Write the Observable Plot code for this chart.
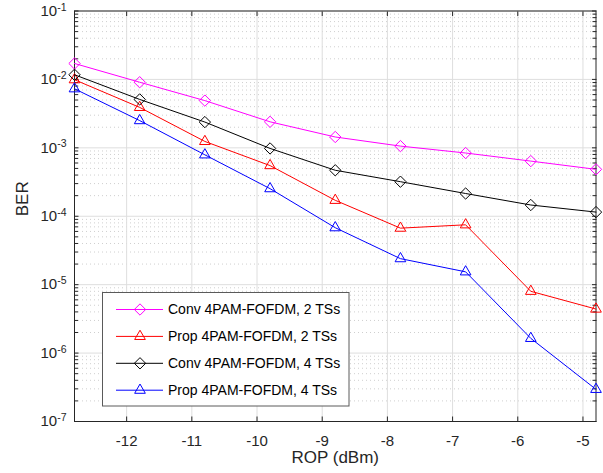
<!DOCTYPE html>
<html><head><meta charset="utf-8">
<script src="https://cdn.jsdelivr.net/npm/d3@7"></script>
<script src="https://cdn.jsdelivr.net/npm/@observablehq/plot@0.6"></script>
<style>
body{margin:0;background:#fff;}
#wrap{position:relative;width:603px;height:473px;}
</style></head><body><div id="wrap"></div>
<script>
// ---- data ----
const rop = [-12.8, -11.8, -10.8, -9.8, -8.8, -7.8, -6.8, -5.8, -4.8];
const conv2 = [1.71e-2, 9.1e-3, 4.9e-3, 2.4e-3, 1.44e-3, 1.06e-3, 8.4e-4, 6.4e-4, 4.85e-4];
const prop2 = [9.9e-3, 3.9e-3, 1.24e-3, 5.5e-4, 1.71e-4, 6.7e-5, 7.5e-5, 8.0e-6, 4.4e-6];
const conv4 = [1.17e-2, 5.1e-3, 2.38e-3, 9.8e-4, 4.7e-4, 3.2e-4, 2.15e-4, 1.46e-4, 1.15e-4];
const prop4 = [7.3e-3, 2.5e-3, 7.9e-4, 2.53e-4, 6.8e-5, 2.4e-5, 1.54e-5, 1.64e-6, 2.95e-7];
const seriesNames = ["Conv 4PAM-FOFDM, 2 TSs", "Prop 4PAM-FOFDM, 2 TSs", "Conv 4PAM-FOFDM, 4 TSs", "Prop 4PAM-FOFDM, 4 TSs"];
const seriesValues = [conv2, prop2, conv4, prop4];
const seriesColors = ["#ff00ff", "#ff0000", "#000000", "#0000ff"];
const seriesSymbols = ["diamond2", "triangle2", "diamond2", "triangle2"];
const xTicks = [-12, -11, -10, -9, -8, -7, -6, -5];
const yDecades = [1e-7, 1e-6, 1e-5, 1e-4, 1e-3, 1e-2, 1e-1];
const yTickLabels = ["10^-7", "10^-6", "10^-5", "10^-4", "10^-3", "10^-2", "10^-1"];
const xLabel = "ROP (dBm)";
const yLabel = "BER";

// ---- derived tables ----
const series = seriesNames.map((name, i) => ({
  name, color: seriesColors[i], symbol: seriesSymbols[i],
  points: rop.map((x, j) => ({x, y: seriesValues[i][j]}))
}));
const minorTicks = [];
for (let e = -7; e < -1; e++) for (let m = 2; m <= 9; m++) minorTicks.push(+(m * Math.pow(10, e)).toPrecision(3));
const labelOf = new Map(yDecades.map((d, i) => [d, yTickLabels[i]]));

const font = '"Liberation Sans", Arial, Helvetica, sans-serif';
const ink = "#262626";
const R = 5.1;

const marks = [
  Plot.ruleY(minorTicks, {stroke: "#cfcfcf", strokeDasharray: "1,3", strokeWidth: 1}),
  Plot.ruleY(yDecades, {stroke: "#dedede"}),
  Plot.ruleX(xTicks, {stroke: "#dedede"}),
  Plot.axisX({ticks: xTicks, tickSize: -4.5, tickPadding: 18.5, tickFormat: d => String(d), label: null, stroke: ink, fill: ink}),
  Plot.axisX({anchor: "top", ticks: xTicks, tickSize: -4.5, tickFormat: () => "", label: null, stroke: ink}),
  Plot.axisY({ticks: yDecades, tickSize: -4.5, tickPadding: 12.5, tickFormat: d => labelOf.get(d), label: null, stroke: ink, fill: ink}),
  Plot.axisY({ticks: minorTicks, tickSize: -4, tickFormat: () => "", label: null, stroke: ink}),
  Plot.axisY({anchor: "right", ticks: yDecades, tickSize: -4.5, tickFormat: () => "", label: null, stroke: ink}),
  Plot.axisY({anchor: "right", ticks: minorTicks, tickSize: -4, tickFormat: () => "", label: null, stroke: ink}),
  Plot.frame({stroke: ink})
];
series.forEach(s => {
  marks.push(Plot.line(s.points, {x: "x", y: "y", stroke: s.color, strokeWidth: 1}));
  marks.push(Plot.dot(s.points, {x: "x", y: "y", stroke: s.color, symbol: s.symbol, r: R, strokeWidth: 1}));
});
marks.push(Plot.text([xLabel], {text: d => d, frameAnchor: "bottom", dy: 41, fontSize: 17, fill: ink}));
marks.push(Plot.text([yLabel], {text: d => d, frameAnchor: "left", dx: -52, rotate: -90, fontSize: 17, fill: ink}));

const chart = Plot.plot({
  width: 603, height: 473,
  marginLeft: 74, marginRight: 7.5, marginTop: 10.5, marginBottom: 52,
  style: {fontFamily: font, fontSize: "15px", color: ink, background: "#fff"},
  x: {domain: [-12.8, -4.8]},
  y: {type: "log", domain: [1e-7, 1e-1]},
  marks
});
document.getElementById("wrap").appendChild(chart);

// superscript exponents on y tick labels
d3.select(chart).selectAll("text").each(function() {
  const t = this.textContent;
  const m = /^10\^(-?\d+)$/.exec(t);
  if (!m) return;
  const sel = d3.select(this);
  sel.text(null);
  sel.append("tspan").text("10");
  sel.append("tspan").attr("dy", "-0.5em").attr("font-size", "10.5px").text(m[1]);
});

// legend (drawn in the chart's svg)
const lg = d3.select(chart).append("g").attr("font-family", font).attr("font-size", "14px").attr("text-anchor", "start");
const box = {x: 102.5, y: 292.5, w: 246.5, h: 113.5};
lg.append("rect").attr("x", box.x).attr("y", box.y).attr("width", box.w).attr("height", box.h)
  .attr("fill", "#fff").attr("stroke", "#5a5a5a").attr("stroke-width", 1);
const symMap = {diamond2: d3.symbolDiamond2, triangle2: d3.symbolTriangle2};
series.forEach((s, i) => {
  const cy = 309.5 + i * 26.9;
  const g = lg.append("g");
  g.append("line").attr("x1", 116).attr("x2", 163).attr("y1", cy).attr("y2", cy).attr("stroke", s.color).attr("stroke-width", 1);
  g.append("path").attr("d", d3.symbol(symMap[s.symbol], Math.PI * R * R)()).attr("transform", `translate(140,${cy})`)
    .attr("fill", "none").attr("stroke", s.color).attr("stroke-width", 1);
  g.append("text").attr("x", 168).attr("y", cy).attr("dy", "0.35em").attr("text-anchor", "start").attr("fill", "#000").text(s.name);
});
</script></body></html>
